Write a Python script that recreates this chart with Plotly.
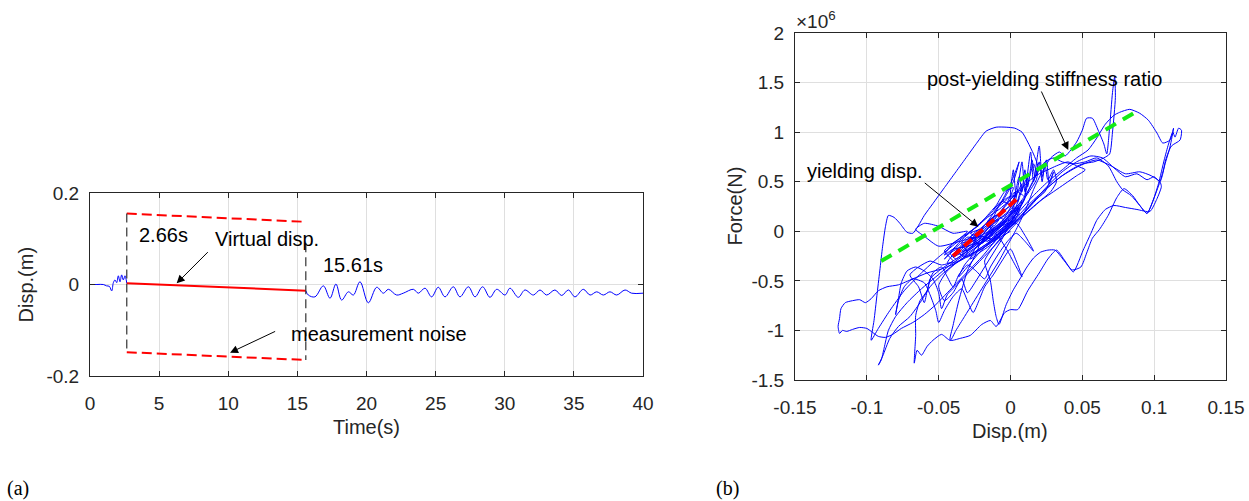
import plotly.graph_objects as go

# ---------------- (a) displacement time history ----------------
T_PRE = [0, 0.5, 0.96, 1.2, 1.4, 1.57, 1.69, 1.81, 1.93, 2.05, 2.17, 2.29, 2.41, 2.53, 2.66]
D_PRE = [0, 0.0, 0.0, -0.003, -0.004, -0.014, 0.004, 0.010, 0.004, 0.019, 0.006, 0.021, 0.010, 0.019, 0.003]

T_POST = [15.61, 15.79, 16.27, 16.88, 17.36, 17.79, 18.20, 18.69, 19.05, 19.53, 20.13, 20.74,
          21.22, 21.58, 22.18, 22.66, 23.39, 23.75, 24.23, 24.71, 25.19, 25.68, 26.28, 26.76,
          27.37, 27.85, 28.40, 28.93, 29.42, 30.02, 30.38, 30.98, 31.46, 32.07, 32.55, 33.03,
          33.63, 34.12, 34.60, 35.08, 35.68, 36.17, 36.65, 37.13, 37.61, 38.10, 38.70, 39.18, 40.0]
D_POST = [-0.0135, -0.023, -0.027, -0.003, -0.030, 0.001, -0.034, -0.016, -0.023, 0.006, -0.040, -0.006,
          -0.019, -0.0105, -0.023, -0.019, -0.0105, -0.019, -0.008, -0.027, -0.006, -0.027, -0.005, -0.027,
          -0.005, -0.027, -0.005, -0.028, -0.0105, -0.023, -0.008, -0.028, -0.012, -0.023, -0.012, -0.023,
          -0.012, -0.024, -0.012, -0.027, -0.0105, -0.023, -0.016, -0.023, -0.016, -0.023, -0.012, -0.019, -0.019]

T_START, T_END = 2.66, 15.61
VIRTUAL_D = [0.003, -0.0135]
NOISE_UPPER = [0.155, 0.137]
NOISE_LOWER = [-0.148, -0.165]
MARK_START_Y = [0.155, -0.148]
MARK_END_Y = [0.09, -0.165]

# ---------------- (b) force-displacement hysteresis (force in 1e6 N) ----------------
HYST_MAIN = [
    (0.000, 0.00), (-0.006, -0.05), (-0.012, -0.10), (-0.006, -0.02), (0.000, 0.06), (0.004, 0.12),
    (-0.004, 0.05), (-0.014, -0.06), (-0.022, -0.14), (-0.016, -0.04), (-0.010, 0.04), (-0.002, 0.14),
    (0.004, 0.24), (-0.004, 0.13), (-0.014, 0.00), (-0.026, -0.16), (-0.034, -0.24), (-0.028, -0.12),
    (-0.020, -0.02), (-0.010, 0.10), (0.000, 0.22), (0.006, 0.33), (0.002, 0.20), (-0.008, 0.05),
    (-0.018, -0.06), (-0.030, -0.18), (-0.040, -0.26), (-0.034, -0.16), (-0.026, -0.06), (-0.018, 0.04),
    (-0.010, 0.15), (-0.002, 0.28),
    (0.004, 0.40), (0.000, 0.25), (0.008, 0.48), (0.005, 0.30), (0.012, 0.56), (0.010, 0.36),
    (0.016, 0.68), (0.018, 0.58), (0.012, 0.40), (0.004, 0.24), (-0.006, 0.08), (-0.016, -0.06),
    (-0.028, -0.18), (-0.040, -0.30), (-0.050, -0.40),
    (-0.056, -0.48), (-0.058, -0.60), (-0.063, -0.70), (-0.066, -0.85), (-0.066, -1.05), (-0.067, -1.33),
    (-0.065, -1.20), (-0.062, -1.25), (-0.058, -1.16), (-0.054, -1.10), (-0.048, -1.04), (-0.042, -1.10),
    (-0.038, -1.00), (-0.032, -0.86), (-0.026, -0.72), (-0.020, -0.58), (-0.014, -0.44), (-0.008, -0.30),
    (-0.002, -0.14), (0.004, 0.02), (0.010, 0.20), (0.016, 0.42),
    (0.022, 0.60), (0.028, 0.74), (0.034, 0.80), (0.038, 0.76), (0.042, 0.82), (0.046, 0.90),
    (0.050, 1.02), (0.053, 1.14), (0.057, 1.14), (0.061, 1.02), (0.065, 0.88), (0.067, 0.78),
    (0.069, 1.05), (0.071, 1.40), (0.0725, 1.56), (0.073, 1.35), (0.071, 1.00), (0.069, 0.78),
    (0.065, 0.74), (0.058, 0.70), (0.050, 0.68), (0.042, 0.62), (0.034, 0.54), (0.026, 0.44),
    (0.018, 0.32), (0.008, 0.16), (-0.004, 0.00), (-0.016, -0.14), (-0.028, -0.24), (-0.038, -0.32),
    (-0.048, -0.38), (-0.058, -0.42), (-0.068, -0.48), (-0.078, -0.54), (-0.086, -0.56), (-0.092, -0.60),
    (-0.097, -0.68), (-0.101, -0.72), (-0.105, -0.69), (-0.110, -0.70), (-0.115, -0.72), (-0.118, -0.78),
    (-0.119, -0.88), (-0.120, -0.96), (-0.119, -1.03), (-0.117, -1.00), (-0.114, -1.01), (-0.110, -0.99),
    (-0.105, -0.97), (-0.100, -0.98), (-0.096, -1.02), (-0.092, -1.06), (-0.087, -1.07), (-0.082, -1.04),
    (-0.076, -0.98), (-0.068, -0.92), (-0.060, -0.84), (-0.052, -0.74), (-0.044, -0.62), (-0.036, -0.50),
    (-0.028, -0.38), (-0.020, -0.26), (-0.012, -0.12), (-0.004, 0.02), (0.004, 0.18), (0.010, 0.34),
    (0.004, 0.40), (-0.004, 0.30), (-0.014, 0.18), (-0.026, 0.02), (-0.038, -0.12), (-0.050, -0.26),
    (-0.062, -0.42), (-0.074, -0.60), (-0.084, -0.80), (-0.092, -0.98), (-0.097, -1.10), (-0.095, -0.90),
    (-0.093, -0.65), (-0.091, -0.40), (-0.089, -0.15), (-0.087, 0.05), (-0.085, 0.16), (-0.081, 0.14),
    (-0.077, 0.08), (-0.072, -0.01), (-0.068, -0.02), (-0.064, 0.06), (-0.060, 0.16), (-0.054, 0.28),
    (-0.046, 0.44), (-0.038, 0.60), (-0.030, 0.76), (-0.023, 0.90), (-0.017, 1.01), (-0.010, 1.05),
    (-0.003, 1.05), (0.003, 1.04), (0.008, 1.00), (0.012, 0.90), (0.016, 0.78), (0.019, 0.66),
    (0.018, 0.52), (0.012, 0.38), (0.004, 0.22), (-0.006, 0.06), (-0.018, -0.10), (-0.030, -0.22),
    (-0.042, -0.34), (-0.052, -0.46), (-0.062, -0.58), (-0.072, -0.72), (-0.080, -0.86), (-0.085, -1.00),
    (-0.088, -1.18), (-0.090, -1.30), (-0.092, -1.35), (-0.089, -1.26), (-0.084, -1.08), (-0.078, -0.96),
    (-0.070, -0.86), (-0.062, -0.70), (-0.056, -0.56), (-0.048, -0.44), (-0.040, -0.34), (-0.030, -0.24),
    (-0.020, -0.12), (-0.010, 0.00), (0.000, 0.14), (0.008, 0.28), (0.014, 0.46), (0.020, 0.62),
    (0.024, 0.70), (0.030, 0.74), (0.036, 0.70), (0.044, 0.68), (0.052, 0.70), (0.060, 0.74),
    (0.068, 0.66), (0.074, 0.50), (0.078, 0.42), (0.084, 0.36), (0.090, 0.26), (0.095, 0.18),
    (0.099, 0.30), (0.103, 0.48), (0.107, 0.72), (0.110, 0.88), (0.113, 1.00), (0.1145, 0.95),
    (0.117, 1.04), (0.119, 1.02), (0.118, 0.92), (0.112, 0.86), (0.108, 0.72), (0.106, 0.58),
    (0.104, 0.50), (0.100, 0.55), (0.095, 0.52), (0.088, 0.58), (0.080, 0.55), (0.072, 0.64),
    (0.064, 0.74), (0.056, 0.76), (0.046, 0.70), (0.036, 0.60), (0.026, 0.46), (0.016, 0.30),
    (0.006, 0.14), (-0.004, -0.02), (-0.012, -0.16), (-0.018, -0.30),
    (-0.014, -0.50), (-0.012, -0.70), (-0.010, -0.86), (-0.008, -0.94), (-0.003, -0.74), (0.002, -0.59),
    (0.007, -0.47), (0.011, -0.37), (0.016, -0.27), (0.021, -0.21), (0.026, -0.19), (0.031, -0.19),
    (0.037, -0.29), (0.043, -0.39), (0.049, -0.36), (0.053, -0.22), (0.057, -0.07), (0.062, 0.02),
    (0.068, 0.16), (0.074, 0.34), (0.079, 0.43), (0.085, 0.36), (0.090, 0.26), (0.095, 0.18),
    (0.100, 0.34), (0.1045, 0.52), (0.108, 0.70), (0.111, 0.85), (0.1135, 1.04), (0.111, 0.92),
    (0.106, 0.89), (0.102, 0.99), (0.096, 1.12), (0.090, 1.19), (0.083, 1.23), (0.076, 1.20),
    (0.072, 1.17), (0.066, 1.08), (0.060, 0.94), (0.054, 0.82), (0.046, 0.74), (0.036, 0.62),
    (0.026, 0.50), (0.016, 0.36), (0.006, 0.20), (-0.004, 0.04), (-0.014, -0.10), (-0.024, -0.20),
    (-0.034, -0.28), (-0.044, -0.40), (-0.050, -0.55), (-0.046, -0.70), (-0.040, -0.62), (-0.034, -0.48),
    (-0.030, -0.62), (-0.024, -0.50), (-0.018, -0.36), (-0.012, -0.22), (-0.006, -0.08), (0.000, 0.08),
    (0.006, 0.24), (0.002, 0.12), (-0.006, 0.00), (-0.014, -0.10), (-0.022, -0.18), (-0.030, -0.26),
    (-0.036, -0.22), (-0.028, -0.10), (-0.018, 0.02), (-0.008, 0.14), (0.000, 0.26), (0.004, 0.18),
    (-0.004, 0.08), (-0.012, -0.02), (-0.020, -0.10), (-0.014, 0.00), (-0.006, 0.10),
    (0.002, 0.30), (0.006, 0.55), (0.008, 0.40), (0.010, 0.62), (0.012, 0.45), (0.015, 0.72),
    (0.017, 0.55), (0.020, 0.70), (0.022, 0.50), (0.024, 0.68), (0.026, 0.52), (0.030, 0.62),
    (0.032, 0.50), (0.028, 0.40), (0.020, 0.30), (0.012, 0.20), (0.004, 0.08), (-0.004, -0.04),
    (-0.012, -0.16), (-0.020, -0.28), (-0.028, -0.40), (-0.036, -0.52), (-0.044, -0.64), (-0.048, -0.78),
    (-0.050, -0.62), (-0.054, -0.48), (-0.060, -0.40), (-0.066, -0.36), (-0.072, -0.40), (-0.076, -0.52),
    (-0.078, -0.68), (-0.080, -0.84), (-0.078, -0.70), (-0.074, -0.56), (-0.068, -0.48), (-0.060, -0.52),
    (-0.056, -0.64), (-0.052, -0.80), (-0.050, -0.92), (-0.046, -0.80), (-0.040, -0.66), (-0.034, -0.58),
    (-0.030, -0.70), (-0.026, -0.82), (-0.022, -0.70), (-0.018, -0.56), (-0.012, -0.44), (-0.006, -0.30),
    (0.000, -0.18), (0.004, -0.30), (0.008, -0.46), (0.004, -0.36), (-0.002, -0.20), (-0.008, -0.06),
    (-0.014, 0.04), (-0.010, 0.20), (-0.004, 0.36), (0.000, 0.48), (0.004, 0.62), (0.006, 0.70),
    (0.002, 0.50), (-0.004, 0.34), (-0.010, 0.22), (-0.018, 0.06), (-0.026, -0.06), (-0.032, -0.14),
    (-0.040, -0.20), (-0.046, -0.28), (-0.040, -0.18), (-0.032, -0.06), (-0.024, 0.04), (-0.016, 0.14),
    (-0.008, 0.22), (0.000, 0.32), (0.008, 0.44), (0.014, 0.52), (0.020, 0.58), (0.026, 0.62),
    (0.032, 0.66), (0.040, 0.70), (0.046, 0.66), (0.052, 0.62), (0.046, 0.56), (0.038, 0.48),
    (0.030, 0.40), (0.022, 0.32), (0.014, 0.22), (0.006, 0.12), (-0.002, 0.02), (-0.010, -0.08),
    (-0.018, -0.16), (-0.026, -0.24), (-0.032, -0.34), (-0.036, -0.46), (-0.030, -0.36), (-0.022, -0.22),
    (-0.014, -0.10), (-0.006, 0.00), (0.002, 0.10),
]
# dense small cycles near the elastic branch, spikes above it and wiggles below it
HYST_DENSE = [
    (-0.030, -0.10), (-0.024, -0.05), (-0.028, -0.02), (-0.020, 0.02), (-0.026, -0.12), (-0.018, -0.04),
    (-0.012, 0.06), (-0.020, -0.10), (-0.014, 0.00), (-0.008, 0.12), (-0.016, 0.02), (-0.022, -0.08),
    (-0.034, -0.20), (-0.028, -0.18), (-0.024, -0.08), (-0.030, -0.06), (-0.036, -0.14), (-0.042, -0.22),
    (-0.038, -0.28), (-0.032, -0.22), (-0.026, -0.14), (-0.018, -0.10), (-0.010, 0.02), (-0.004, 0.10),
    (-0.010, 0.16), (-0.016, 0.10), (-0.006, 0.20), (0.000, 0.26), (-0.006, 0.30), (-0.012, 0.22),
    (-0.002, 0.34), (0.004, 0.36), (0.000, 0.18), (-0.008, 0.04), (-0.016, -0.04), (-0.024, -0.12),
    (-0.032, -0.16), (-0.040, -0.18), (-0.046, -0.24), (-0.040, -0.12), (-0.034, -0.06), (-0.028, 0.00),
    (-0.022, 0.06), (-0.016, 0.16), (-0.010, 0.26), (-0.004, 0.40), (0.002, 0.44), (-0.002, 0.30),
    (-0.008, 0.18), (-0.014, 0.06), (-0.020, -0.04), (-0.026, -0.10), (-0.034, -0.12), (-0.030, -0.22),
    (-0.036, -0.30), (-0.044, -0.32), (-0.038, -0.20), (-0.030, -0.08), (-0.022, 0.00), (-0.014, 0.08),
    (-0.006, 0.14), (0.002, 0.22), (0.008, 0.30), (0.004, 0.14), (-0.002, 0.04), (-0.010, -0.06),
    (-0.018, -0.16), (-0.012, -0.08), (-0.006, 0.02), (0.000, 0.10), (0.006, 0.18),
    (0.000, 0.30), (0.002, 0.62), (0.004, 0.35), (0.008, 0.70), (0.010, 0.40), (0.014, 0.80),
    (0.016, 0.50), (0.020, 0.86), (0.022, 0.55), (0.025, 0.72), (0.027, 0.48), (0.030, 0.60),
    (0.024, 0.40), (0.016, 0.30), (0.008, 0.16), (-0.002, 0.02), (-0.012, -0.08),
    (-0.020, -0.05), (-0.035, -0.10), (-0.050, -0.15), (-0.060, -0.05), (-0.066, 0.02), (-0.060, 0.08),
    (-0.050, 0.05), (-0.040, -0.02), (-0.030, 0.00), (-0.036, -0.08), (-0.046, -0.20),
    (-0.040, -0.30), (-0.048, -0.34), (-0.056, -0.30), (-0.064, -0.36), (-0.070, -0.44), (-0.064, -0.56),
    (-0.060, -0.72), (-0.058, -0.60), (-0.054, -0.42), (-0.048, -0.36), (-0.044, -0.46), (-0.040, -0.56),
    (-0.036, -0.44), (-0.030, -0.34), (-0.024, -0.40), (-0.018, -0.48), (-0.014, -0.36), (-0.008, -0.22),
    (-0.002, -0.10), (0.004, -0.02), (0.010, -0.10), (0.016, -0.20), (0.010, -0.04), (0.004, 0.08),
    (-0.004, 0.00), (-0.012, -0.12), (-0.020, -0.20), (-0.028, -0.28), (-0.024, -0.16), (-0.016, -0.06),
    (-0.008, 0.06), (0.000, 0.16), (0.006, 0.26), (0.000, 0.12), (-0.008, 0.00), (-0.016, -0.10),
    (-0.024, -0.04), (-0.018, 0.06), (-0.012, 0.14), (-0.020, 0.04), (-0.028, -0.06), (-0.022, -0.14),
]
# second excursion through the lower-right region
HYST_LOWER = [
    (-0.030, -0.40), (-0.036, -0.70), (-0.040, -0.95), (-0.042, -1.10), (-0.035, -1.08), (-0.028, -1.05),
    (-0.020, -0.94), (-0.014, -0.90), (-0.010, -0.96), (-0.004, -0.82), (0.000, -0.79), (0.005, -0.79),
    (0.012, -0.60), (0.020, -0.42), (0.026, -0.28), (0.032, -0.19), (0.038, -0.30), (0.0437, -0.41),
    (0.0506, -0.19), (0.056, -0.02), (0.060, 0.11), (0.066, 0.22), (0.072, 0.26), (0.080, 0.24),
    (0.088, 0.22), (0.097, 0.20), (0.1017, 0.32), (0.105, 0.45), (0.104, 0.50), (0.098, 0.56),
    (0.090, 0.60), (0.080, 0.58), (0.070, 0.66), (0.060, 0.72), (0.048, 0.66), (0.036, 0.56),
    (0.024, 0.42), (0.012, 0.26), (0.002, 0.10), (-0.008, -0.02), (-0.016, -0.10),
]
HYST = HYST_MAIN + HYST_DENSE + HYST_LOWER
DISP = [p[0] for p in HYST]
FORCE_MN = [p[1] for p in HYST]

YIELD_X = [-0.040, 0.004]
YIELD_F = [-0.25, 0.32]
POST_X = [-0.090, 0.088]
POST_F = [-0.30, 1.21]

FONT = "Liberation Sans, Arial, sans-serif"
TICK_C = "#262626"
GRID_C = "#dfdfdf"

fig = go.Figure()

# (a) traces
fig.add_trace(go.Scatter(x=T_PRE, y=D_PRE, mode="lines", line=dict(color="rgb(0,0,255)", width=1, shape="spline"),
                         xaxis="x", yaxis="y", showlegend=False))
fig.add_trace(go.Scatter(x=T_POST, y=D_POST, mode="lines", line=dict(color="rgb(0,0,255)", width=1, shape="spline"),
                         xaxis="x", yaxis="y", showlegend=False))
fig.add_trace(go.Scatter(x=[T_START, T_END], y=VIRTUAL_D, mode="lines", line=dict(color="rgb(255,0,0)", width=2),
                         xaxis="x", yaxis="y", showlegend=False))
for ys in (NOISE_UPPER, NOISE_LOWER):
    fig.add_trace(go.Scatter(x=[T_START, T_END], y=ys, mode="lines",
                             line=dict(color="rgb(255,0,0)", width=2, dash="10px,5px"),
                             xaxis="x", yaxis="y", showlegend=False))
fig.add_trace(go.Scatter(x=[T_START, T_START], y=MARK_START_Y, mode="lines",
                         line=dict(color="#333333", width=1.2, dash="9px,5px"), xaxis="x", yaxis="y", showlegend=False))
fig.add_trace(go.Scatter(x=[T_END, T_END], y=MARK_END_Y, mode="lines",
                         line=dict(color="#333333", width=1.2, dash="9px,5px"), xaxis="x", yaxis="y", showlegend=False))

# (b) traces
fig.add_trace(go.Scatter(x=DISP, y=FORCE_MN, mode="lines",
                         line=dict(color="rgb(0,0,255)", width=1, shape="spline", smoothing=0.6),
                         xaxis="x2", yaxis="y2", showlegend=False))
fig.add_trace(go.Scatter(x=POST_X, y=POST_F, mode="lines",
                         line=dict(color="rgb(20,235,20)", width=4, dash="12px,8px"),
                         xaxis="x2", yaxis="y2", showlegend=False))
fig.add_trace(go.Scatter(x=YIELD_X, y=YIELD_F, mode="lines",
                         line=dict(color="rgb(255,0,0)", width=4, dash="10px,5px"),
                         xaxis="x2", yaxis="y2", showlegend=False))

W, H = 1249, 501

def px(x):
    return x / W

def py(y):
    return 1 - y / H

axis_common = dict(showline=True, linecolor=TICK_C, linewidth=1, mirror="ticks", ticks="inside",
                   ticklen=5, tickcolor=TICK_C, showgrid=True, gridcolor=GRID_C, gridwidth=1,
                   zeroline=False, automargin=False, tickfont=dict(family=FONT, size=19, color=TICK_C))

fig.update_layout(
    template="none",
    width=W, height=H, margin=dict(l=0, r=0, t=0, b=0, pad=0), autosize=False,
    paper_bgcolor="white", plot_bgcolor="white",
    xaxis=dict(domain=[px(90), px(643)], range=[0, 40], anchor="y",
               tickvals=[0, 5, 10, 15, 20, 25, 30, 35, 40], ticklabelstandoff=10, **axis_common),
    yaxis=dict(domain=[py(376), py(193)], range=[-0.2, 0.2], anchor="x",
               tickvals=[-0.2, 0, 0.2], ticktext=["-0.2", "0", "0.2"], ticklabelstandoff=6, **axis_common),
    xaxis2=dict(domain=[px(795), px(1226)], range=[-0.15, 0.15], anchor="y2",
                tickvals=[-0.15, -0.1, -0.05, 0, 0.05, 0.1, 0.15],
                ticktext=["-0.15", "-0.1", "-0.05", "0", "0.05", "0.1", "0.15"], ticklabelstandoff=10, **axis_common),
    yaxis2=dict(domain=[py(380), py(33)], range=[-1.5, 2], anchor="x2",
                tickvals=[-1.5, -1, -0.5, 0, 0.5, 1, 1.5, 2],
                ticktext=["-1.5", "-1", "-0.5", "0", "0.5", "1", "1.5", "2"], ticklabelstandoff=6, **axis_common),
)

ann_font = dict(family=FONT, size=20, color="black")
lab_font = dict(family=FONT, size=20, color=TICK_C)
serif = dict(family="Liberation Serif, Times New Roman, serif", size=20, color="black")
anns = []

def paper_text(text, x, y, font, angle=0, xanchor="center"):
    anns.append(dict(text=text, x=px(x), y=py(y), xref="paper", yref="paper", showarrow=False,
                     font=font, textangle=angle, xanchor=xanchor, yanchor="middle"))

# axis titles and panel labels
paper_text("Time(s)", 366.5, 427, lab_font)
paper_text("Disp.(m)", 25, 284.5, lab_font, angle=-90)
paper_text("Disp.(m)", 1010.5, 431, lab_font)
paper_text("Force(N)", 734, 206.5, lab_font, angle=-90)
paper_text("\u00d710<sup>6</sup>", 794, 20, dict(family=FONT, size=19, color=TICK_C), xanchor="left")
paper_text("(a)", 18, 488, serif)
paper_text("(b)", 727, 488, serif)

# (a) text
for txt, x, y in [("2.66s", 5.28, 0.108), ("Virtual disp.", 12.8, 0.0995), ("15.61s", 19.02, 0.043),
                  ("measurement noise", 20.9, -0.108)]:
    anns.append(dict(text=txt, x=x, y=y, xref="x", yref="y", showarrow=False, font=ann_font,
                     xanchor="center", yanchor="middle"))
for (tx, ty), (hx, hy) in [((8.63, 0.074), (6.27, 0.0026)), ((13.5, -0.101), (10.13, -0.149))]:
    anns.append(dict(text="", x=hx, y=hy, ax=tx, ay=ty, xref="x", yref="y", axref="x", ayref="y",
                     showarrow=True, arrowhead=2, arrowsize=1.6, arrowwidth=1, arrowcolor="black"))

# (b) text
for txt, x, y in [("post-yielding stiffness ratio", 0.024, 1.536), ("yielding disp.", -0.1013, 0.608)]:
    anns.append(dict(text=txt, x=x, y=y, xref="x2", yref="y2", showarrow=False, font=ann_font,
                     xanchor="center", yanchor="middle"))
for (tx, ty), (hx, hy) in [((0.021, 1.425), (0.0402, 0.82)), ((-0.0607, 0.50), (-0.0224, 0.046))]:
    anns.append(dict(text="", x=hx, y=hy, ax=tx, ay=ty, xref="x2", yref="y2", axref="x2", ayref="y2",
                     showarrow=True, arrowhead=2, arrowsize=1.6, arrowwidth=1, arrowcolor="black"))

fig.update_layout(annotations=anns)
fig.write_html("out.html", post_script="document.body.style.margin='0';",
               config={"displayModeBar": False})
